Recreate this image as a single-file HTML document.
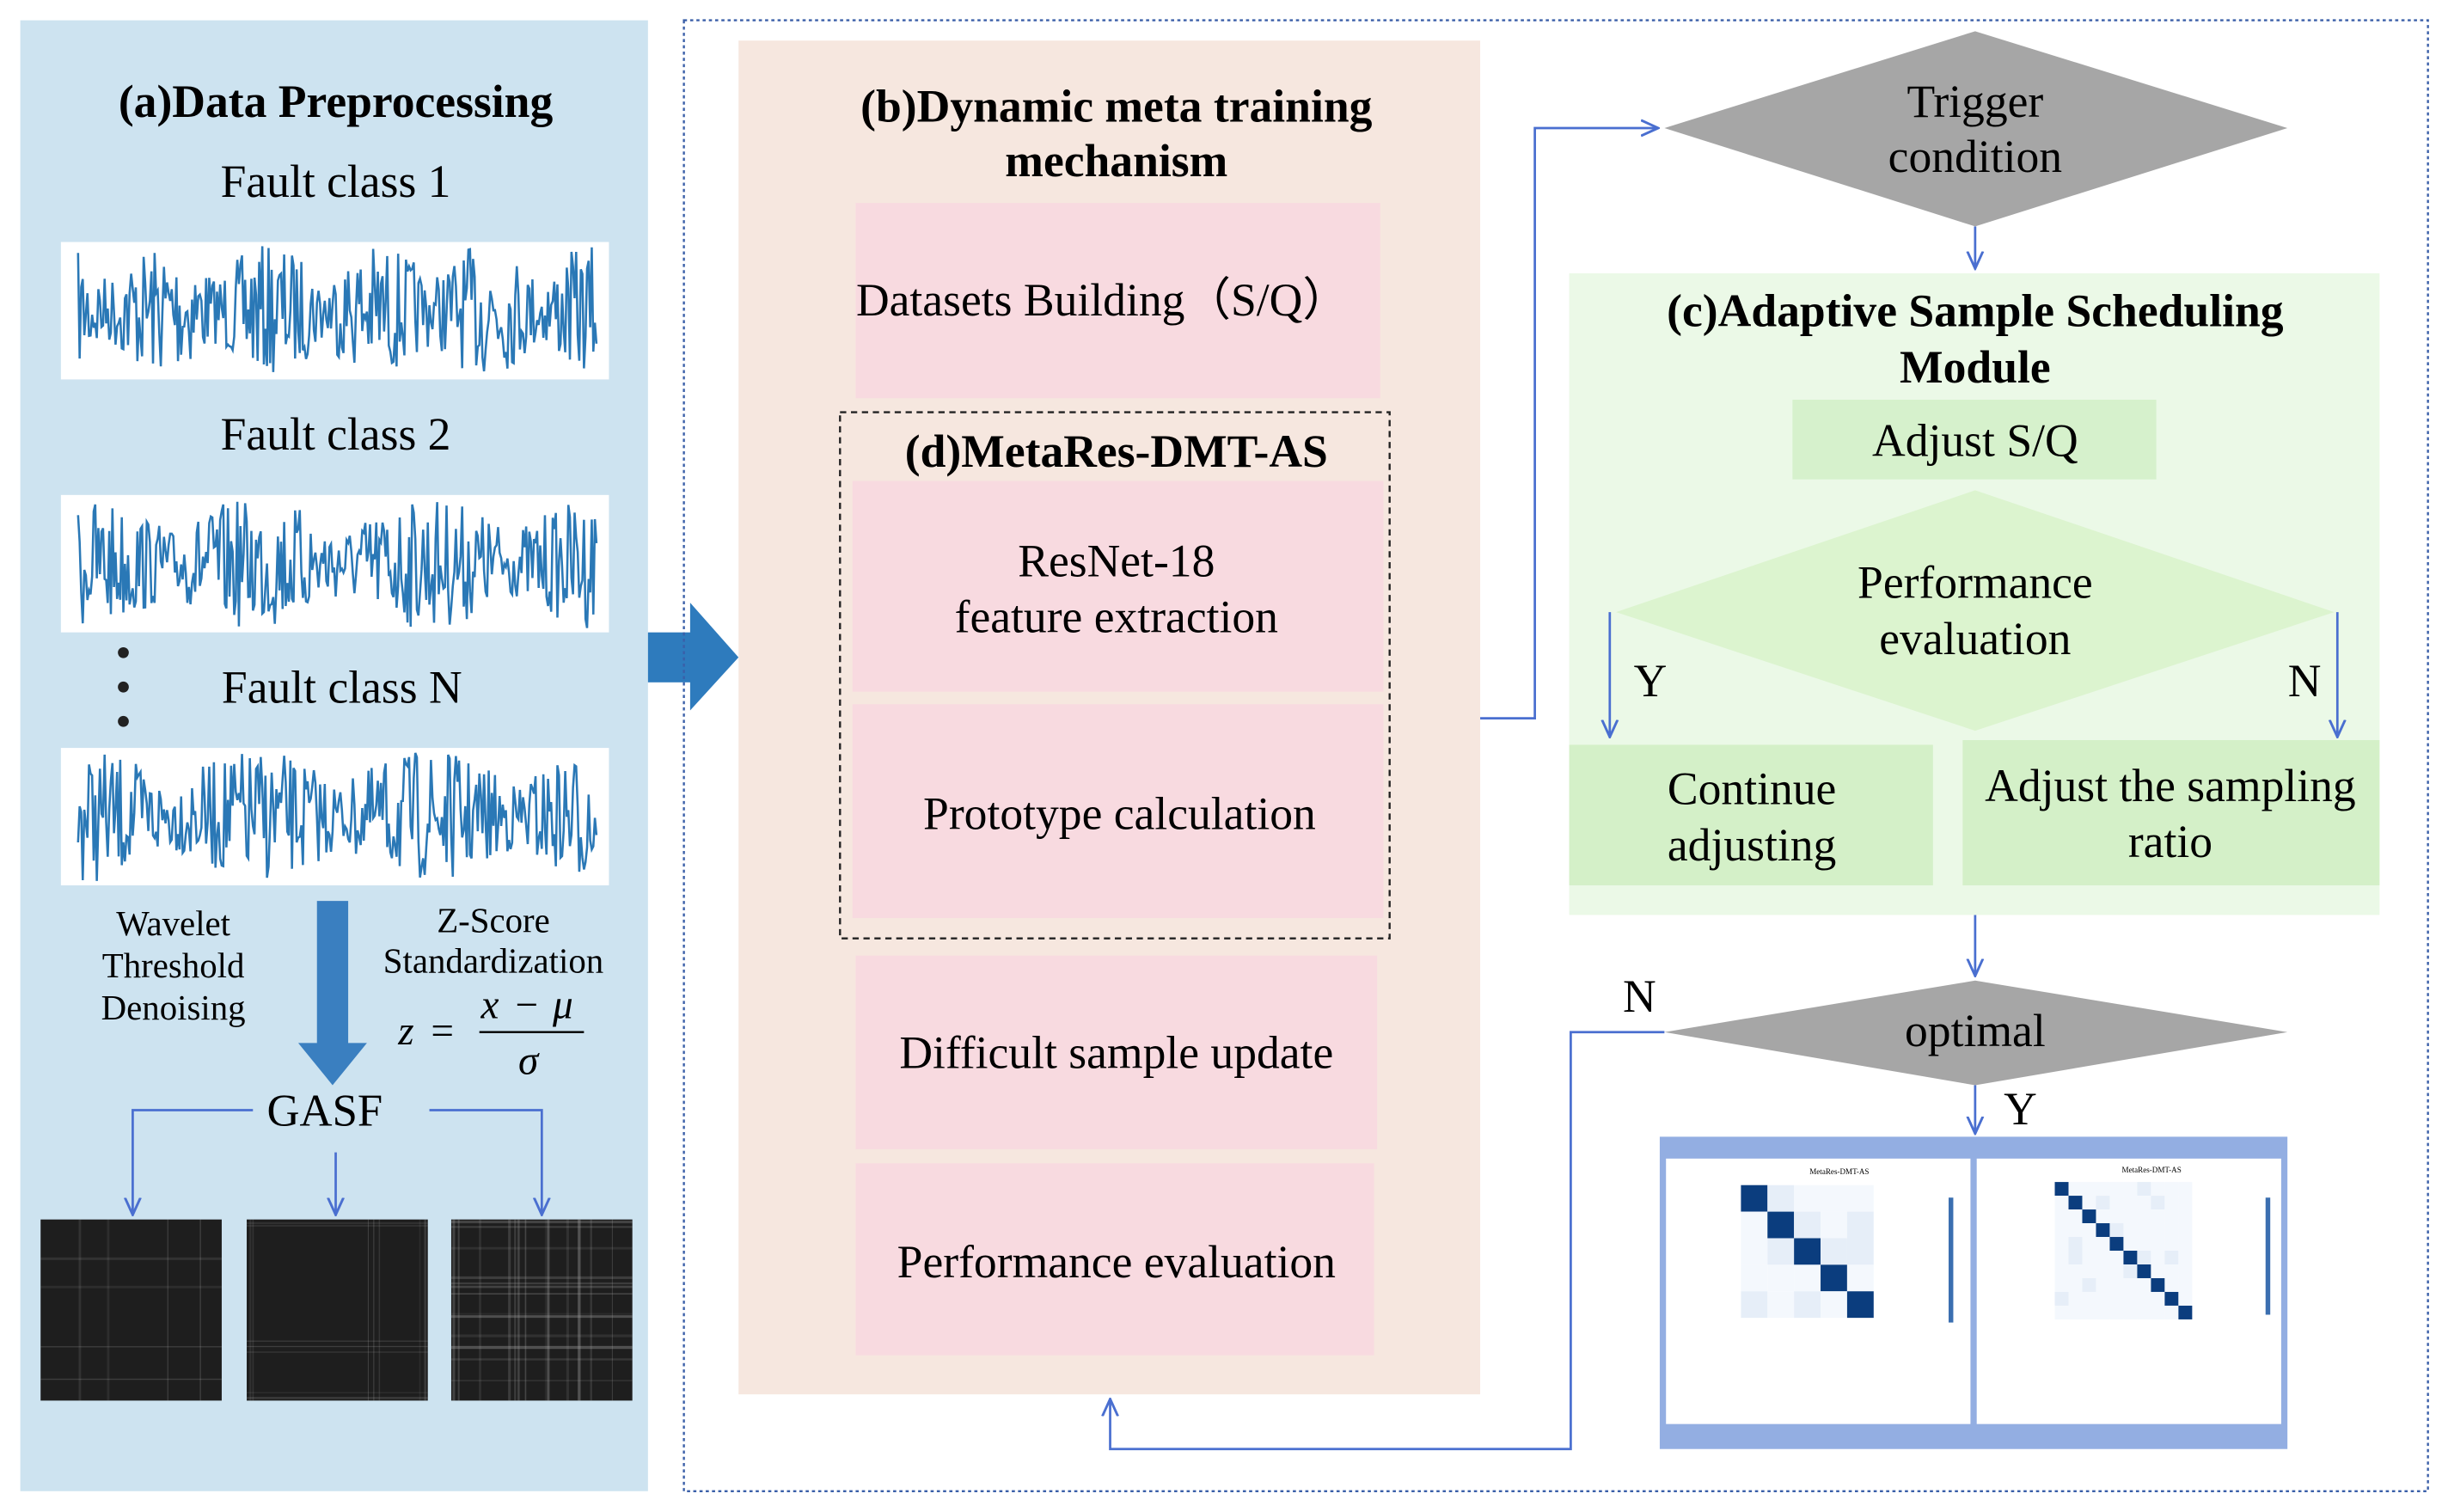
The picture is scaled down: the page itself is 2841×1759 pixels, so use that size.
<!DOCTYPE html>
<html><head><meta charset="utf-8">
<style>
html,body{margin:0;padding:0;background:#fff;overflow:hidden}
#w{width:1564px;height:968px;transform:scale(1.81650);transform-origin:0 0;position:relative}
svg text{font-family:"Liberation Serif",serif}
</style></head><body>
<div id="w">
<svg id="s" width="1564" height="968" viewBox="0 0 1564 968" xmlns="http://www.w3.org/2000/svg">
<defs>
<marker id="ar" viewBox="0 0 12 12" refX="11" refY="6" markerWidth="12" markerHeight="12" markerUnits="userSpaceOnUse" orient="auto">
<path d="M0,1 L11,6 L0,11" fill="none" stroke="#4a6fd0" stroke-width="1.6"/></marker>
</defs>
<rect x="13" y="13" width="402" height="942" fill="#cde3f0"/>
<text x="215" y="75" font-size="29.5" font-weight="bold" text-anchor="middle">(a)Data Preprocessing</text>
<text x="215" y="126" font-size="29.5" text-anchor="middle">Fault class 1</text>
<text x="215" y="288" font-size="29.5" text-anchor="middle">Fault class 2</text>
<text x="219" y="450" font-size="29.5" text-anchor="middle">Fault class N</text>
<rect x="39" y="155" width="351" height="88" fill="#fff"/>
<rect x="39" y="317" width="351" height="88" fill="#fff"/>
<rect x="39" y="479" width="351" height="88" fill="#fff"/>
<g id="waves" fill="none" stroke="#2a78b6" stroke-width="1.4"></g>
<circle cx="79" cy="418" r="3.5" fill="#222"/><circle cx="79" cy="440" r="3.5" fill="#222"/><circle cx="79" cy="462" r="3.5" fill="#222"/>
<rect x="203" y="577" width="20" height="92" fill="#3a7fc0"/>
<polygon points="191,668 235,668 213,695" fill="#3a7fc0"/>
<g font-size="22.5" text-anchor="middle">
<text x="111" y="599">Wavelet</text><text x="111" y="626">Threshold</text><text x="111" y="653">Denoising</text>
<text x="316" y="597">Z-Score</text><text x="316" y="623">Standardization</text>
</g>
<g font-size="26" font-style="italic">
<text x="255" y="669">z</text><text x="276" y="669" font-style="normal">=</text>
<text x="308" y="652">x</text><text x="330" y="652" font-style="normal">−</text><text x="354" y="652">μ</text>
<text x="332" y="688">σ</text>
</g>
<line x1="307" y1="661" x2="374" y2="661" stroke="#000" stroke-width="1.3"/>
<text x="208" y="721" font-size="29" text-anchor="middle">GASF</text>
<g stroke="#4a6fd0" stroke-width="1.5" fill="none">
<polyline points="162,711 85,711 85,778" marker-end="url(#ar)"/>
<line x1="215" y1="738" x2="215" y2="778" marker-end="url(#ar)"/>
<polyline points="275,711 347,711 347,778" marker-end="url(#ar)"/>
</g>
<g id="gasf"></g>
<rect x="415" y="405" width="28" height="32" fill="#2e7bbd"/>
<polygon points="442,386 473,421 442,455" fill="#2e7bbd"/>
<rect x="438" y="13" width="1117" height="942" fill="none" stroke="#3a5fa8" stroke-width="1.3" stroke-dasharray="2,2"/>
<rect x="473" y="26" width="475" height="867" fill="#f6e7df"/>
<text x="715" y="78" font-size="29.5" font-weight="bold" text-anchor="middle">(b)Dynamic meta training</text>
<text x="715" y="113" font-size="29.5" font-weight="bold" text-anchor="middle">mechanism</text>
<g fill="#f8dae0">
<rect x="548" y="130" width="336" height="125"/>
<rect x="546" y="308" width="340" height="135"/>
<rect x="546" y="451" width="340" height="137"/>
<rect x="548" y="612" width="334" height="124"/>
<rect x="548" y="745" width="332" height="123"/>
</g>
<rect x="538" y="264" width="352" height="337" fill="none" stroke="#222" stroke-width="1.3" stroke-dasharray="4,3"/>
<g font-size="29.5" text-anchor="middle">
<text x="706" y="202">Datasets Building（S/Q）</text>
<text x="715" y="299" font-weight="bold">(d)MetaRes-DMT-AS</text>
<text x="715" y="369">ResNet-18</text>
<text x="715" y="405">feature extraction</text>
<text x="717" y="531">Prototype calculation</text>
<text x="715" y="684">Difficult sample update</text>
<text x="715" y="818">Performance evaluation</text>
</g>
<g stroke="#4a6fd0" stroke-width="1.5" fill="none">
<polyline points="948,460 983,460 983,82 1062,82" marker-end="url(#ar)"/>
<line x1="1265" y1="145" x2="1265" y2="172" marker-end="url(#ar)"/>
<line x1="1265" y1="586" x2="1265" y2="625" marker-end="url(#ar)"/>
<line x1="1265" y1="695" x2="1265" y2="726" marker-end="url(#ar)"/>
<polyline points="1066,661 1006,661 1006,928 711,928 711,896" marker-end="url(#ar)"/>
</g>
<polygon points="1066,82 1265,20 1465,82 1265,145" fill="#a6a6a6"/>
<text x="1265" y="75" font-size="29.5" text-anchor="middle">Trigger</text>
<text x="1265" y="110" font-size="29.5" text-anchor="middle">condition</text>
<rect x="1005" y="175" width="519" height="411" fill="#ebf9e7"/>
<text x="1265" y="209" font-size="29.5" font-weight="bold" text-anchor="middle">(c)Adaptive Sample Scheduling</text>
<text x="1265" y="245" font-size="29.5" font-weight="bold" text-anchor="middle">Module</text>
<rect x="1148" y="256" width="233" height="51" fill="#d6f1cc"/>
<text x="1265" y="292" font-size="29.5" text-anchor="middle">Adjust S/Q</text>
<polygon points="1035,392 1265,314 1495,392 1265,468" fill="#dcf4cf"/>
<text x="1265" y="383" font-size="29.5" text-anchor="middle">Performance</text>
<text x="1265" y="419" font-size="29.5" text-anchor="middle">evaluation</text>
<rect x="1005" y="477" width="233" height="90" fill="#d4f0c8"/>
<rect x="1257" y="474" width="267" height="93" fill="#d4f0c8"/>
<g font-size="29.5" text-anchor="middle">
<text x="1122" y="515">Continue</text><text x="1122" y="551">adjusting</text>
<text x="1390" y="513">Adjust the sampling</text><text x="1390" y="549">ratio</text>
<text x="1057" y="446">Y</text><text x="1476" y="446">N</text>
<text x="1050" y="648">N</text><text x="1294" y="720">Y</text>
</g>
<g stroke="#4a6fd0" stroke-width="1.5" fill="none">
<line x1="1031" y1="392" x2="1031" y2="472" marker-end="url(#ar)"/>
<line x1="1497" y1="392" x2="1497" y2="472" marker-end="url(#ar)"/>
</g>
<polygon points="1066,661 1265,628 1465,661 1265,695" fill="#a6a6a6"/>
<text x="1265" y="670" font-size="29.5" text-anchor="middle">optimal</text>
<rect x="1063" y="728" width="402" height="200" fill="#93aee2"/>
<rect x="1067" y="742" width="195" height="170" fill="#fff"/>
<rect x="1266" y="742" width="195" height="170" fill="#fff"/>
<g id="cm"></g>
</svg>
</div>
<script>
var NS="http://www.w3.org/2000/svg";
function el(t,a,p){var e=document.createElementNS(NS,t);for(var k in a)e.setAttribute(k,a[k]);p.appendChild(e);return e;}
var seed=7;function r(){seed=(seed*16807)%2147483647;return seed/2147483647;}
var wv=document.getElementById('waves');
[[199,42],[361,42],[523,42]].forEach(function(w,i){
 var pts=[];for(var x=50;x<=382;x+=1.0){var env=0.5+0.5*Math.abs(Math.sin(x/(i==0?22:35)));var y=w[0]+(r()*2-1)*w[1]*env;pts.push(x.toFixed(1)+","+y.toFixed(1));}
 el('polyline',{points:pts.join(' ')},wv);});
var g=document.getElementById('gasf');
[26,158,289].forEach(function(x0,i){
 el('rect',{x:x0,y:781,width:116,height:116,fill:'#1e1e1e'},g);
 var n=[4,7,16][i];
 for(var k=0;k<n;k++){var p=r()*116,o=(0.08+r()*0.2).toFixed(2),sw=(0.6+r()*1.2).toFixed(1);
  el('line',{x1:x0+p,y1:781,x2:x0+p,y2:897,stroke:'#aaa','stroke-opacity':o,'stroke-width':sw},g);
  el('line',{x1:x0,y1:781+p,x2:x0+116,y2:781+p,stroke:'#aaa','stroke-opacity':o,'stroke-width':sw},g);}
});
var cm=document.getElementById('cm');
function mat(x0,y0,n,cell){for(var a=0;a<n;a++)for(var b=0;b<n;b++){var c=a==b?'#0b3d7e':(r()<0.2?'#e6eef8':'#f4f8fd');el('rect',{x:x0+b*cell,y:y0+a*cell,width:cell,height:cell,fill:c},cm);}}
mat(1115,759,5,17);mat(1316,757,10,8.8);
el('rect',{x:1248,y:767,width:3,height:80,fill:'#3b6fb0'},cm);
el('rect',{x:1451,y:767,width:3,height:75,fill:'#3b6fb0'},cm);
var t=el('text',{x:1178,y:752,'font-size':5,'text-anchor':'middle','font-family':'Liberation Sans'},cm);t.textContent='MetaRes-DMT-AS';
t=el('text',{x:1378,y:751,'font-size':5,'text-anchor':'middle','font-family':'Liberation Sans'},cm);t.textContent='MetaRes-DMT-AS';
</script>
</body></html>
